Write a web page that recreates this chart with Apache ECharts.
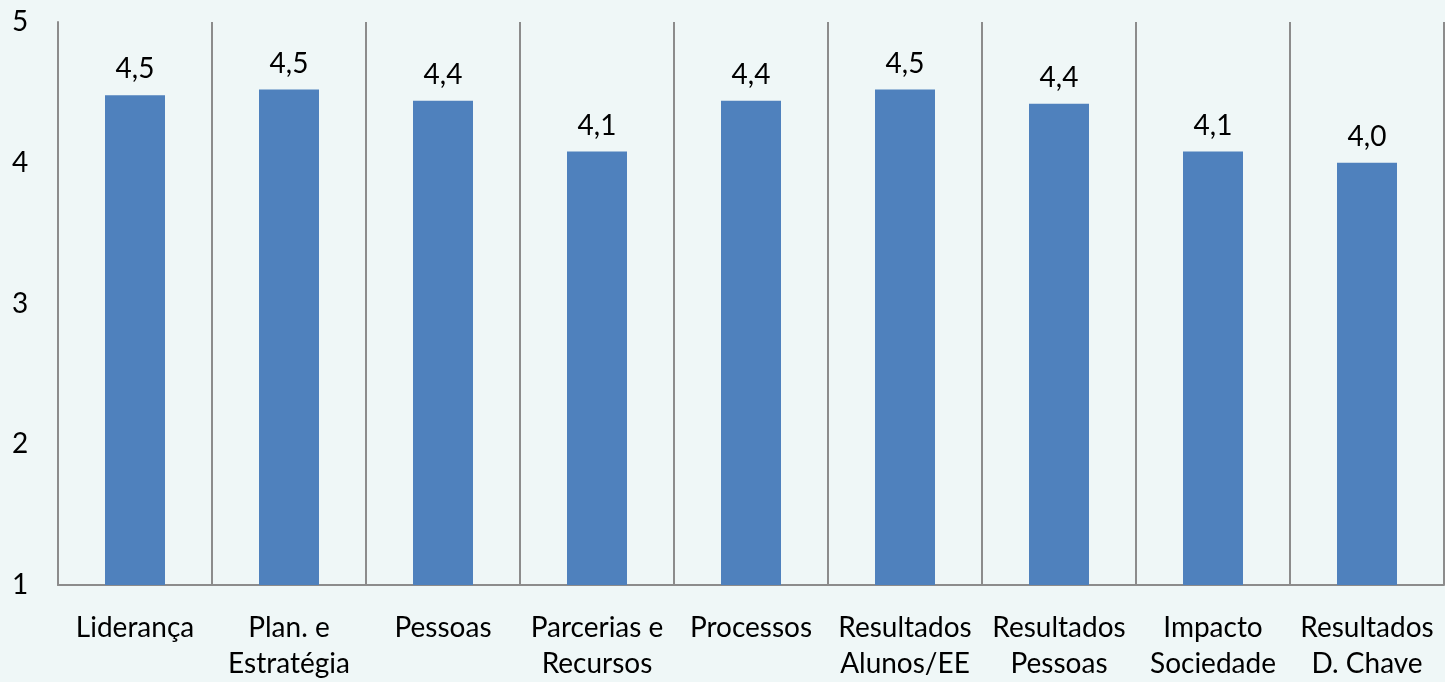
<!DOCTYPE html>
<html><head><meta charset="utf-8">
<script src="https://cdn.jsdelivr.net/npm/echarts@6/dist/echarts.min.js"></script>
<style>html,body{margin:0;padding:0;background:#eff7f7;}#c{width:1445px;height:682px;}</style>
</head><body><div id="c"></div>
<script>
const categories = ['Liderança','Plan. e\nEstratégia','Pessoas','Parcerias e\nRecursos','Processos','Resultados\nAlunos/EE','Resultados\nPessoas','Impacto\nSociedade','Resultados\nD. Chave'];
const values = [4.48, 4.52, 4.44, 4.08, 4.44, 4.52, 4.42, 4.08, 4.0];
const yTicks = [1, 2, 3, 4, 5];
const FONT = 'Lato';
const chart = echarts.init(document.getElementById('c'));
chart.setOption({
  backgroundColor: '#eff7f7',
  animation: false,
  grid: {left: 58, right: 1, top: 22, bottom: 95},
  xAxis: {
    type: 'category', data: categories,
    axisLine: {show: true, lineStyle: {color: '#8c8c8c', width: 2}},
    axisTick: {show: false},
    splitLine: {show: true, interval: 0, lineStyle: {color: '#8c8c8c', width: 2}},
    axisLabel: {interval: 0, color: '#000', fontFamily: FONT, fontSize: 28, lineHeight: 36, margin: 25}
  },
  yAxis: {
    type: 'value', min: yTicks[0], max: yTicks[yTicks.length-1], interval: 1,
    axisLine: {show: true, lineStyle: {color: '#8c8c8c', width: 2}},
    axisTick: {show: false},
    splitLine: {show: false},
    axisLabel: {color: '#000', fontFamily: FONT, fontSize: 28, margin: 38, align: 'center'}
  },
  series: [{
    type: 'bar', data: values, barWidth: 60,
    itemStyle: {color: '#4f81bd'},
    label: {show: true, position: 'top', distance: 12, color: '#000', fontFamily: FONT, fontSize: 28,
      formatter: p => p.value.toFixed(1).replace('.', ',')}
  }]
});
</script></body></html>
